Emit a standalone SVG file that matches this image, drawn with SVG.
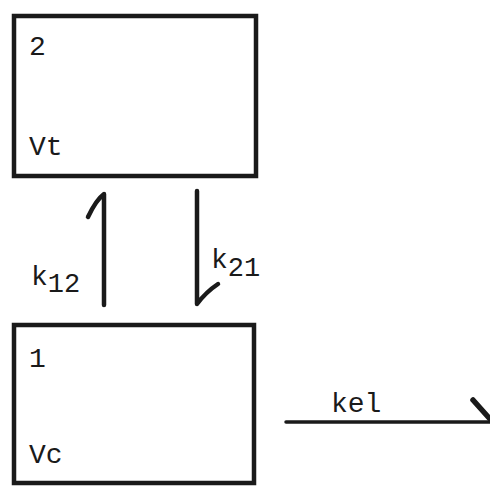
<svg xmlns="http://www.w3.org/2000/svg" width="490" height="495" viewBox="0 0 490 495">
<style>
.box{fill:#fff;stroke:#1a1a1a;stroke-width:4.5}
.t{font-family:"Liberation Mono","DejaVu Sans Mono",monospace;font-size:28px;fill:#1a1a1a}
.s{font-size:27px}
.c{fill:none;stroke:#1a1a1a;stroke-width:4.5;stroke-linecap:round;stroke-linejoin:round}
.c2{fill:none;stroke:#1a1a1a;stroke-width:3.5;stroke-linecap:round}
</style>
<rect width="490" height="495" fill="#fff"/>
<g id="node2">
<rect class="box" x="14" y="16" width="242" height="160"/>
<text class="t" x="29" y="55">2</text>
<text class="t" x="29" y="155">Vt</text>
</g>
<g id="node1">
<rect class="box" x="14" y="325" width="240" height="158"/>
<text class="t" x="29" y="367">1</text>
<text class="t" x="29" y="463">Vc</text>
</g>
<g id="connectors">
<path class="c" d="M104,305 L104,194 Q96,200 88,217"/>
<text class="t" x="31" y="285">k<tspan class="s" dy="7">12</tspan></text>
<path class="c" d="M197,191 L197,304 Q206,292 218,284"/>
<text class="t" x="211" y="268">k<tspan class="s" dy="8">21</tspan></text>
<path class="c2" d="M286,422 L490,422"/>
<path class="c" d="M473,400 L490,419" style="stroke-width:5.5"/>
<text class="t" x="331" y="412">kel</text>
</g>
</svg>
